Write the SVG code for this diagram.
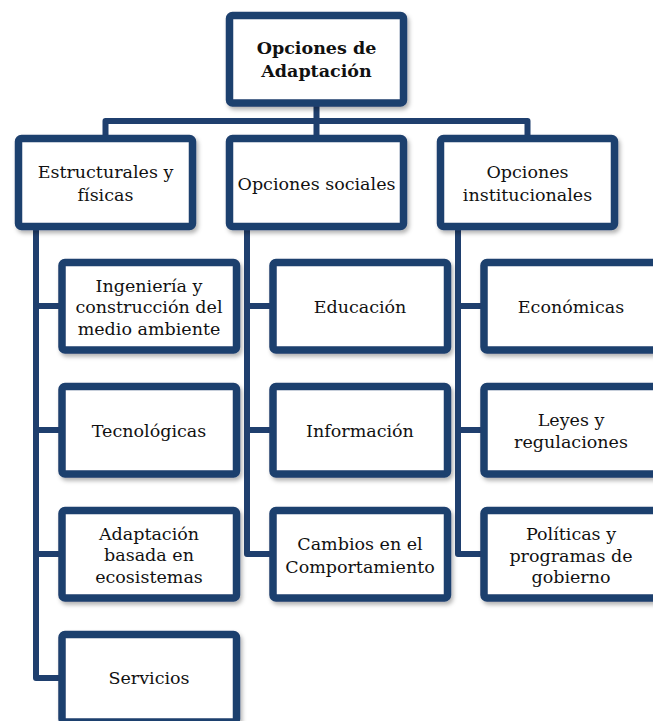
<svg xmlns="http://www.w3.org/2000/svg" width="653" height="721" viewBox="0 0 653 721">
<defs>
<filter id="sh" x="-10%" y="-10%" width="130%" height="130%">
<feDropShadow dx="2" dy="3" stdDeviation="2" flood-color="#000" flood-opacity="0.3"/>
</filter>
</defs>
<style>
.box{fill:#fff;stroke:#1f3f6e;stroke-width:7.5;filter:url(#sh)}
.c{fill:none;stroke:#1f3f6e;stroke-width:6;stroke-linejoin:round}
text{font-family:"DejaVu Serif","Liberation Serif",serif;font-size:17.5px;fill:#111;text-anchor:middle}
.b{font-weight:bold;font-size:17.5px}
</style>
<rect width="653" height="721" fill="#fff"/>
<g id="connectors">
<path class="c" d="M105.5,135 V121 H527.5 V135 M316.5,106 V135"/>
<path class="c" d="M36,230 V678 H60 M36,306 H60 M36,430 H60 M36,554 H60"/>
<path class="c" d="M247,230 V554 H271 M247,306 H271 M247,430 H271"/>
<path class="c" d="M458,230 V554 H482 M458,306 H482 M458,430 H482"/>
</g>
<g id="root"><rect class="box" x="229.5" y="15.5" width="174" height="87.5" rx="3"/><text class="b" x="316.5" y="54">Opciones de</text><text class="b" x="316.5" y="77">Adaptación</text></g>
<g id="estructurales"><rect class="box" x="18.5" y="138.5" width="174" height="88" rx="3"/><text x="105.5" y="178">Estructurales y</text><text x="105.5" y="201">físicas</text></g>
<g id="sociales"><rect class="box" x="229.5" y="138.5" width="174" height="88" rx="3"/><text x="316.5" y="190">Opciones sociales</text></g>
<g id="institucionales"><rect class="box" x="440.5" y="138.5" width="174" height="88" rx="3"/><text x="527.5" y="178">Opciones</text><text x="527.5" y="201">institucionales</text></g>
<g id="ingenieria"><rect class="box" x="62" y="262.5" width="174.5" height="87.5" rx="3"/><text x="149" y="292">Ingeniería y</text><text x="149" y="313">construcción del</text><text x="149" y="335">medio ambiente</text></g>
<g id="tecnologicas"><rect class="box" x="62" y="386.5" width="174.5" height="87.5" rx="3"/><text x="149" y="437">Tecnológicas</text></g>
<g id="ecosistemas"><rect class="box" x="62" y="510.5" width="174.5" height="87.5" rx="3"/><text x="149" y="539.5">Adaptación</text><text x="149" y="561">basada en</text><text x="149" y="583">ecosistemas</text></g>
<g id="servicios"><rect class="box" x="62" y="634.5" width="174.5" height="87.5" rx="3"/><text x="149" y="684">Servicios</text></g>
<g id="educacion"><rect class="box" x="273" y="262.5" width="174.5" height="87.5" rx="3"/><text x="360" y="313">Educación</text></g>
<g id="informacion"><rect class="box" x="273" y="386.5" width="174.5" height="87.5" rx="3"/><text x="360" y="437">Información</text></g>
<g id="comportamiento"><rect class="box" x="273" y="510.5" width="174.5" height="87.5" rx="3"/><text x="360" y="549.5">Cambios en el</text><text x="360" y="572.5">Comportamiento</text></g>
<g id="economicas"><rect class="box" x="484" y="262.5" width="174.5" height="87.5" rx="3"/><text x="571" y="313">Económicas</text></g>
<g id="leyes"><rect class="box" x="484" y="386.5" width="174.5" height="87.5" rx="3"/><text x="571" y="425.5">Leyes y</text><text x="571" y="448">regulaciones</text></g>
<g id="politicas"><rect class="box" x="484" y="510.5" width="174.5" height="87.5" rx="3"/><text x="571" y="540">Políticas y</text><text x="571" y="561.5">programas de</text><text x="571" y="583">gobierno</text></g>
</svg>
